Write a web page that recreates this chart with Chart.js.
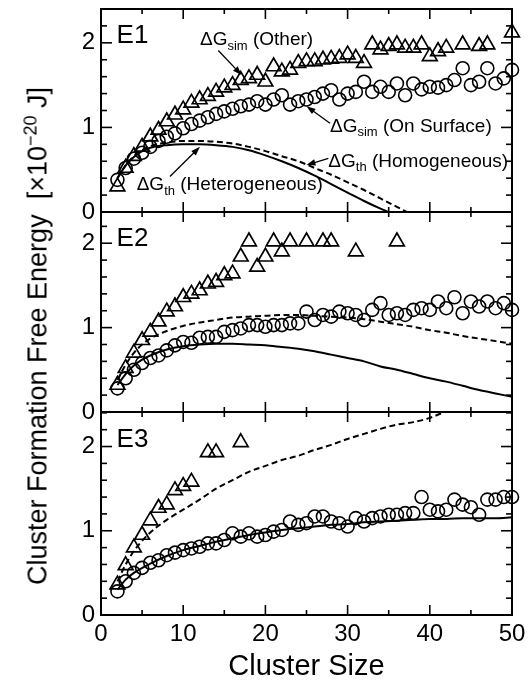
<!DOCTYPE html>
<html>
<head>
<meta charset="utf-8">
<script src="https://cdn.jsdelivr.net/npm/chart.js@4.4.1/dist/chart.umd.min.js"></script>
<style>
html, body { margin: 0; padding: 0; background: #fff; }
#wrap { position: relative; width: 529px; height: 681px; overflow: hidden; }
#wrap canvas { position: absolute; left: 0; top: 0; }
#ytitle {
  position: absolute; left: 38px; top: 336px;
  transform: translate(-50%, -50%) rotate(-90deg);
  white-space: nowrap; color: #000;
  font: 27px "Liberation Sans", Arial, sans-serif; line-height: 27px;
}
#ytitle sup { font-size: 18px; line-height: 0; }
</style>
</head>
<body>
<div id="wrap">
  <canvas id="p1" width="529" height="681"></canvas>
  <canvas id="p2" width="529" height="681"></canvas>
  <canvas id="p3" width="529" height="681"></canvas>
  <div id="ytitle">Cluster Formation Free Energy&nbsp;&nbsp;[×10<sup>−20</sup>&nbsp;J]</div>
</div>
<script>
const FONT = '"Liberation Sans", Arial, sans-serif'

// cluster sizes for the circle series
const sizes = [2,3,4,5,6,7,8,9,10,11,12,13,14,15,16,17,18,19,20,21,22,23,24,25,26,27,28,29,30,31,32,33,34,35,36,37,38,39,40,41,42,43,44,45,46,47,48,49,50]
const xTickLabels = [0, 10, 20, 30, 40, 50]
const yTickLabels = [0, 1, 2]

// ---- E1 ----
const e1Surface = [0.38,0.52,0.63,0.70,0.77,0.84,0.89,0.93,0.99,1.04,1.08,1.12,1.16,1.19,1.22,1.25,1.27,1.31,1.27,1.33,1.38,1.27,1.31,1.33,1.36,1.40,1.44,1.33,1.40,1.42,1.54,1.42,1.48,1.42,1.52,1.38,1.52,1.45,1.48,1.47,1.50,1.56,1.70,1.50,1.54,1.70,1.52,1.58,1.68]
const e1OtherX = [2,3,4,5,6,7,8,9,10,11,12,13,14,15,16,17,18,19,20,21,22,23,24,25,26,27,28,29,30,31,32,33,34,35,36,37,38,39,40,41,42,44,46,47,50]
const e1OtherY = [0.30,0.52,0.66,0.77,0.89,0.97,1.07,1.15,1.21,1.29,1.33,1.37,1.42,1.47,1.50,1.56,1.58,1.62,1.54,1.72,1.66,1.68,1.76,1.78,1.78,1.80,1.81,1.82,1.86,1.82,1.76,1.98,1.92,1.96,1.98,1.94,1.94,1.98,1.84,1.90,1.94,1.98,1.96,1.98,2.12]
const e1HetX = [2,3,4,5,6,8,10,12,14,16,18,20,22,24,26,28,30,32,34,35]
const e1HetY = [0.40,0.55,0.65,0.72,0.76,0.79,0.80,0.80,0.79,0.77,0.73,0.67,0.60,0.52,0.43,0.33,0.23,0.13,0.04,0]
const e1HomX = [2,3,4,5,6,8,10,12,14,16,18,20,22,24,26,28,30,32,34,36,37.2]
const e1HomY = [0.40,0.55,0.66,0.73,0.78,0.82,0.84,0.84,0.83,0.81,0.77,0.72,0.66,0.60,0.52,0.44,0.35,0.26,0.16,0.06,0]

// ---- E2 ----
const e2Surface = [0.28,0.40,0.50,0.58,0.64,0.67,0.73,0.79,0.83,0.82,0.88,0.89,0.89,0.95,0.97,0.99,1.03,1.03,1.01,1.03,1.03,1.05,1.05,1.19,1.09,1.15,1.13,1.19,1.17,1.15,1.09,1.21,1.29,1.15,1.17,1.15,1.21,1.23,1.21,1.31,1.23,1.36,1.17,1.31,1.25,1.31,1.23,1.29,1.21]
const e2OtherX = [2,3,4,5,6,7,8,9,10,11,12,13,14,15,16,17,18,19,20,21,22,23,25,27,28,31,36]
const e2OtherY = [0.32,0.52,0.70,0.85,0.95,1.07,1.19,1.25,1.36,1.40,1.44,1.52,1.54,1.62,1.64,1.84,2.02,1.72,1.84,2.02,1.90,2.02,2.02,2.02,2.02,1.90,2.02]
const e2HetX = [2,3,4,5,6,8,10,12,14,16,18,20,22,24,26,28,30,32,34,36,38,40,42,44,46,48,50]
const e2HetY = [0.32,0.45,0.55,0.62,0.67,0.74,0.78,0.80,0.81,0.81,0.80,0.79,0.77,0.75,0.72,0.68,0.64,0.60,0.54,0.50,0.45,0.40,0.36,0.31,0.26,0.22,0.18]
const e2HomX = [2,3,4,5,6,8,10,12,14,16,18,20,22,24,26,28,30,32,34,36,38,40,42,44,46,48,50]
const e2HomY = [0.38,0.56,0.70,0.80,0.87,0.96,1.02,1.06,1.09,1.12,1.13,1.14,1.15,1.15,1.14,1.13,1.12,1.10,1.07,1.04,1.01,0.97,0.94,0.90,0.87,0.84,0.81]

// ---- E3 ----
const e3Surface = [0.28,0.40,0.50,0.56,0.62,0.65,0.71,0.74,0.77,0.79,0.81,0.85,0.85,0.89,0.97,0.93,0.97,0.93,0.95,0.99,1.01,1.11,1.07,1.09,1.17,1.17,1.11,1.09,1.05,1.15,1.11,1.15,1.17,1.19,1.19,1.21,1.21,1.40,1.25,1.23,1.25,1.37,1.31,1.28,1.19,1.37,1.37,1.40,1.40]
const e3OtherX = [2,3,4,5,6,7,8,9,10,11,13,14,17]
const e3OtherY = [0.36,0.59,0.80,0.95,1.12,1.27,1.31,1.48,1.53,1.58,1.93,1.93,2.05]
const e3HetX = [2,3,4,6,8,10,12,14,16,18,20,22,24,26,28,30,32,34,36,38,40,42,44,46,48,50]
const e3HetY = [0.30,0.42,0.50,0.61,0.70,0.77,0.82,0.87,0.91,0.95,0.98,1.01,1.03,1.05,1.07,1.08,1.10,1.11,1.12,1.13,1.14,1.14,1.15,1.15,1.15,1.16]
const e3HomX = [2,3,4,5,6,8,10,12,14,16,18,20,22,24,26,28,30,32,34,36,38,40,42]
const e3HomY = [0.40,0.60,0.76,0.88,0.98,1.13,1.25,1.37,1.50,1.60,1.70,1.77,1.84,1.89,1.96,2.02,2.09,2.15,2.21,2.26,2.29,2.34,2.42]

function pts(xs, ys) {
  return xs.map((x, i) => ({x: x, y: ys[i]}))
}

function near(a, b) {
  return Math.abs(a - b) < 1e-6
}

function seg(ctx, x1, y1, x2, y2) {
  ctx.beginPath()
  ctx.moveTo(x1, y1)
  ctx.lineTo(x2, y2)
  ctx.stroke()
}

// frame box + inward ticks on all four sides, from the scale ticks
function drawFrame(chart) {
  const ctx = chart.ctx
  const a = chart.chartArea
  const xs = chart.scales.x, ys = chart.scales.y
  ctx.setLineDash([])
  ctx.strokeStyle = '#000'
  ctx.lineCap = 'butt'
  ctx.lineWidth = 2
  ctx.strokeRect(a.left, a.top, a.right - a.left, a.bottom - a.top)
  ctx.lineWidth = 1.6
  xs.ticks.forEach(t => {
    const px = xs.getPixelForValue(t.value)
    const len = near(t.value % 10, 0) ? 10 : 5
    seg(ctx, px, a.bottom, px, a.bottom - len)
    seg(ctx, px, a.top, px, a.top + len)
  })
  ys.ticks.forEach(t => {
    const py = ys.getPixelForValue(t.value)
    const len = near(t.value, Math.round(t.value)) ? 11 : 6
    seg(ctx, a.left, py, a.left + len, py)
    seg(ctx, a.right, py, a.right - len, py)
  })
}

// text with subscripts, parts = [[text, isSub], ...]
function drawRich(ctx, x, y, parts, size) {
  parts.forEach(p => {
    const sub = p[1]
    ctx.font = (sub ? Math.round(size * 0.68) : size) + 'px ' + FONT
    ctx.fillText(p[0], x, sub ? y + size * 0.25 : y)
    x += ctx.measureText(p[0]).width
  })
}

function drawArrow(ctx, x1, y1, x2, y2) {
  const ang = Math.atan2(y2 - y1, x2 - x1)
  const c = Math.cos(ang), s = Math.sin(ang)
  ctx.lineWidth = 1.3
  seg(ctx, x1, y1, x2 - c * 6, y2 - s * 6)
  ctx.beginPath()
  ctx.moveTo(x2, y2)
  ctx.lineTo(x2 - c * 9 + s * 3.2, y2 - s * 9 - c * 3.2)
  ctx.lineTo(x2 - c * 9 - s * 3.2, y2 - s * 9 + c * 3.2)
  ctx.closePath()
  ctx.fill()
}

function makePanel(id, p) {
  const xh = p.showX ? 66 : 0

  const panelPlugin = {
    id: 'panelDecor' + id,
    afterDraw(chart) {
      const ctx = chart.ctx
      const xs = chart.scales.x, ys = chart.scales.y
      ctx.save()
      ctx.fillStyle = '#000'
      drawFrame(chart)
      ctx.textBaseline = 'alphabetic'
      ctx.textAlign = 'left'
      p.texts.forEach(t => {
        drawRich(ctx, xs.getPixelForValue(t.x), ys.getPixelForValue(t.y), t.parts, t.size)
      })
      p.arrows.forEach(a => {
        drawArrow(ctx, xs.getPixelForValue(a[0]), ys.getPixelForValue(a[1]),
                  xs.getPixelForValue(a[2]), ys.getPixelForValue(a[3]))
      })
      ctx.restore()
    }
  }

  return new Chart(document.getElementById(id), {
    type: 'scatter',
    data: {
      datasets: [
        {
          data: pts(p.hetX, p.hetY), showLine: true, borderColor: '#000', borderWidth: 2,
          pointRadius: 0, cubicInterpolationMode: 'monotone'
        },
        {
          data: pts(p.homX, p.homY), showLine: true, borderColor: '#000', borderWidth: 2,
          borderDash: [6, 3.5], pointRadius: 0, cubicInterpolationMode: 'monotone'
        },
        {
          data: pts(sizes, p.surface), pointStyle: 'circle', pointRadius: 6.5,
          borderColor: '#000', borderWidth: 1.6, backgroundColor: 'rgba(0,0,0,0)', clip: false
        },
        {
          data: pts(p.otherX, p.otherY), pointStyle: 'triangle', pointRadius: 8.5,
          borderColor: '#000', borderWidth: 1.7, backgroundColor: 'rgba(0,0,0,0)', clip: false
        }
      ]
    },
    options: {
      responsive: false,
      animation: false,
      events: [],
      layout: {
        autoPadding: false,
        padding: {left: 0, right: 17, top: p.top, bottom: 681 - p.bottom - xh}
      },
      plugins: {legend: {display: false}, tooltip: {enabled: false}},
      scales: {
        x: {
          type: 'linear', min: 0, max: 50, position: 'bottom',
          grid: {display: false, drawTicks: false}, border: {display: false},
          ticks: {
            display: p.showX, stepSize: 5, maxTicksLimit: 100, autoSkip: false, maxRotation: 0, padding: 7,
            color: '#000', font: {family: FONT, size: 24, lineHeight: 1},
            callback: v => xTickLabels.includes(v) ? String(v) : ''
          },
          title: {
            display: p.showX, text: 'Cluster Size', color: '#000',
            font: {family: FONT, size: 29, lineHeight: 1}, padding: {top: 0, bottom: 0}
          },
          afterFit: s => { s.height = xh; s.paddingLeft = 0; s.paddingRight = 0 }
        },
        y: {
          type: 'linear', min: 0, max: p.ymax,
          grid: {display: false, drawTicks: false}, border: {display: false},
          ticks: {
            stepSize: 0.2, maxTicksLimit: 100, autoSkip: false, includeBounds: false, padding: 6,
            color: '#000', font: {family: FONT, size: 24, lineHeight: 1},
            callback: v => yTickLabels.some(t => near(t, v)) ? String(Math.round(v)) : ''
          },
          afterFit: s => { s.width = 101; s.paddingTop = 0; s.paddingBottom = 0 }
        }
      }
    },
    plugins: [panelPlugin]
  })
}

const NOTE = 19

makePanel('p1', {
  top: 9, bottom: 212, ymax: 2.4, showX: false,
  surface: e1Surface, otherX: e1OtherX, otherY: e1OtherY,
  hetX: e1HetX, hetY: e1HetY, homX: e1HomX, homY: e1HomY,
  texts: [
    {x: 1.9, y: 2.0, parts: [['E1']], size: 26},
    {x: 12.04, y: 1.97, parts: [['ΔG'], ['sim', 1], [' (Other)']], size: NOTE},
    {x: 27.86, y: 0.95, parts: [['ΔG'], ['sim', 1], [' (On Surface)']], size: NOTE},
    {x: 27.66, y: 0.535, parts: [['ΔG'], ['th', 1], [' (Homogeneous)']], size: NOTE},
    {x: 4.34, y: 0.26, parts: [['ΔG'], ['th', 1], [' (Heterogeneous)']], size: NOTE}
  ],
  arrows: [
    [14.27, 1.91, 17.1, 1.62],
    [27.86, 1.05, 25.0, 1.25],
    [27.66, 0.635, 25.0, 0.555],
    [8.39, 0.42, 12.04, 0.77]
  ]
})

makePanel('p2', {
  top: 212, bottom: 412, ymax: 2.37, showX: false,
  surface: e2Surface, otherX: e2OtherX, otherY: e2OtherY,
  hetX: e2HetX, hetY: e2HetY, homX: e2HomX, homY: e2HomY,
  texts: [{x: 1.9, y: 1.97, parts: [['E2']], size: 26}],
  arrows: []
})

makePanel('p3', {
  top: 412, bottom: 615, ymax: 2.41, showX: true,
  surface: e3Surface, otherX: e3OtherX, otherY: e3OtherY,
  hetX: e3HetX, hetY: e3HetY, homX: e3HomX, homY: e3HomY,
  texts: [{x: 1.9, y: 2.0, parts: [['E3']], size: 26}],
  arrows: []
})
</script>
</body>
</html>
